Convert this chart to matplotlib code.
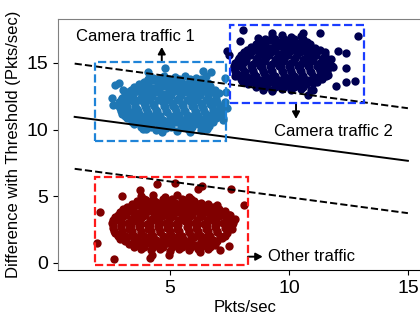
import matplotlib
matplotlib.use("Agg")
import matplotlib.pyplot as plt
from matplotlib.patches import Rectangle

plt.rcParams['font.family'] = ['Liberation Sans', 'DejaVu Sans']

# ---------------- data ----------------
cam1_points = [
    (4.0,10.05),(4.4,9.95),(4.85,10.1),(5.3,9.9),(5.75,10.05),(6.3,10.0),(6.55,10.1),
    (3.5,10.45),(3.85,10.35),(4.2,10.45),(4.6,10.3),(5.0,10.45),(5.45,10.35),(5.8,10.5),(6.2,10.4),(6.65,10.3),
    (3.2,10.85),(3.55,10.75),(3.9,10.9),(4.3,10.8),(4.7,10.7),(5.1,10.85),(5.5,10.75),(5.9,10.9),(6.3,10.8),(6.7,10.7),(6.95,10.9),
    (3.0,11.2),(3.35,11.3),(3.7,11.15),(4.1,11.25),(4.5,11.1),(4.9,11.3),(5.3,11.2),(5.7,11.1),(6.1,11.3),(6.5,11.2),(6.85,11.1),(7.15,11.3),
    (2.9,11.6),(3.2,11.7),(3.6,11.55),(4.0,11.65),(4.4,11.5),(4.8,11.7),(5.2,11.6),(5.6,11.5),(6.0,11.7),(6.4,11.6),(6.8,11.5),(7.1,11.7),
    (2.85,12.05),(3.15,11.95),(3.5,12.1),(3.9,12.0),(4.3,11.9),(4.7,12.1),(5.1,12.0),(5.5,11.9),(5.9,12.1),(6.3,12.0),(6.7,11.9),(7.0,12.1),
    (3.0,12.4),(3.4,12.5),(3.8,12.35),(4.2,12.45),(4.6,12.3),(5.0,12.5),(5.4,12.4),(5.8,12.3),(6.2,12.5),(6.6,12.4),(6.95,12.3),
    (3.2,12.8),(3.6,12.9),(4.0,12.75),(4.4,12.85),(4.8,12.7),(5.2,12.9),(5.6,12.8),(6.0,12.7),(6.4,12.9),(6.75,12.8),(7.05,12.75),
    (3.5,13.2),(3.9,13.3),(4.3,13.15),(4.7,13.25),(5.1,13.1),(5.5,13.3),(5.9,13.2),(6.3,13.1),(6.7,13.3),
    (3.9,13.6),(4.3,13.7),(4.7,13.55),(5.1,13.65),(5.5,13.5),(5.9,13.7),(6.3,13.6),(6.6,13.5),
    (4.3,13.9),(4.75,14.0),(5.2,13.95),(5.65,14.05),(6.1,13.9),(6.5,14.0),
    # outliers
    (2.69,13.35),(2.87,13.47),(2.55,12.4),(4.09,14.35),(4.79,14.6),(6.4,14.4),(6.72,14.35),
    (7.31,12.1),(7.24,10.84),(7.06,11.47),(6.54,10.04),(5.84,9.79),(4.65,9.83),(3.88,10.04),
    (3.04,12.97),(2.62,11.84),(7.3,13.9),(7.35,12.8),(7.25,10.7),(7.4,11.6),
]
cam1_rows = [
    (10.2, [3.8,4.2,4.6,5.05,5.5,5.95,6.4]),
    (10.6, [3.4,3.7,4.05,4.45,4.85,5.25,5.65,6.05,6.45,6.8]),
    (11.0, [3.1,3.45,3.8,4.2,4.6,5.0,5.4,5.8,6.2,6.6,6.95]),
    (11.4, [2.95,3.25,3.65,4.05,4.45,4.85,5.25,5.65,6.05,6.45,6.85,7.15]),
    (11.8, [2.85,3.15,3.55,3.95,4.35,4.75,5.15,5.55,5.95,6.35,6.75,7.1]),
    (12.2, [2.95,3.3,3.7,4.1,4.5,4.9,5.3,5.7,6.1,6.5,6.9]),
    (12.6, [3.1,3.45,3.85,4.25,4.65,5.05,5.45,5.85,6.25,6.6,6.95]),
    (13.0, [3.35,3.75,4.15,4.55,4.95,5.35,5.75,6.15,6.55,6.9]),
    (13.4, [3.7,4.1,4.5,4.9,5.3,5.7,6.1,6.5]),
    (13.8, [4.1,4.5,4.95,5.4,5.85,6.3]),
]

cam2_points = [
    (8.9,13.0),(9.3,12.9),(9.7,13.05),(10.1,12.95),(10.5,13.05),
    (8.3,13.4),(8.7,13.35),(9.1,13.45),(9.5,13.3),(9.9,13.45),(10.3,13.35),(10.7,13.4),(11.0,13.5),
    (8.0,13.8),(8.35,13.9),(8.75,13.75),(9.15,13.85),(9.55,13.7),(9.95,13.9),(10.35,13.8),(10.75,13.7),(11.15,13.9),(11.4,13.8),
    (7.8,14.2),(8.15,14.3),(8.55,14.15),(8.95,14.25),(9.35,14.1),(9.75,14.3),(10.15,14.2),(10.55,14.1),(10.95,14.3),(11.35,14.2),(11.65,14.1),
    (7.7,14.6),(8.05,14.7),(8.45,14.55),(8.85,14.65),(9.25,14.5),(9.65,14.7),(10.05,14.6),(10.45,14.5),(10.85,14.7),(11.25,14.6),(11.6,14.5),(11.85,14.7),
    (7.75,15.0),(8.1,15.1),(8.5,14.95),(8.9,15.05),(9.3,14.9),(9.7,15.1),(10.1,15.0),(10.5,14.9),(10.9,15.1),(11.3,15.0),(11.7,14.9),
    (7.9,15.4),(8.25,15.5),(8.65,15.35),(9.05,15.45),(9.45,15.3),(9.85,15.5),(10.25,15.4),(10.65,15.3),(11.05,15.5),(11.45,15.4),(11.75,15.3),
    (8.1,15.8),(8.45,15.9),(8.85,15.75),(9.25,15.85),(9.65,15.7),(10.05,15.9),(10.45,15.8),(10.85,15.7),(11.2,15.9),(11.5,15.8),
    (8.4,16.2),(8.8,16.3),(9.2,16.15),(9.6,16.25),(10.0,16.1),(10.4,16.3),(10.8,16.2),(11.1,16.1),
    (8.8,16.6),(9.2,16.7),(9.6,16.55),(10.0,16.65),(10.4,16.5),(10.75,16.6),
    (9.3,17.0),(9.7,17.1),(10.1,16.95),(10.5,17.05),
    # outliers
    (8.08,17.45),(9.27,17.26),(12.91,17.02),(7.38,15.87),(7.49,15.62),(12.07,15.88),(12.42,15.75),
    (12.42,14.62),(12.77,13.62),(12.0,13.24),(10.81,12.61),(10.95,13.0),(9.27,13.0),(7.94,16.63),
    (8.71,16.88),(10.6,17.26),(11.3,17.26),(7.73,14.0),(8.01,13.62),(12.42,13.6),(11.02,12.97),
]
cam2_rows = [
    (13.2, [8.6,9.0,9.4,9.8,10.2,10.6]),
    (13.6, [8.15,8.5,8.9,9.3,9.7,10.1,10.5,10.85,11.2]),
    (14.0, [7.9,8.2,8.6,9.0,9.4,9.8,10.2,10.6,11.0,11.3,11.55]),
    (14.4, [7.75,8.1,8.5,8.9,9.3,9.7,10.1,10.5,10.9,11.3,11.6]),
    (14.8, [7.7,8.0,8.4,8.8,9.2,9.6,10.0,10.4,10.8,11.2,11.55,11.8]),
    (15.2, [7.85,8.2,8.6,9.0,9.4,9.8,10.2,10.6,11.0,11.4,11.7]),
    (15.6, [8.0,8.35,8.75,9.15,9.55,9.95,10.35,10.75,11.15,11.5]),
    (16.0, [8.25,8.6,9.0,9.4,9.8,10.2,10.6,11.0,11.3]),
    (16.4, [8.6,9.0,9.4,9.8,10.2,10.6,10.9]),
    (16.8, [9.0,9.4,9.8,10.2,10.6]),
]

other_points = [
    (3.8,1.0),(4.2,0.95),(4.6,1.05),(5.0,0.9),(5.4,1.05),(5.8,0.95),(6.2,1.05),(6.6,1.0),
    (3.3,1.4),(3.7,1.35),(4.1,1.45),(4.5,1.3),(4.9,1.45),(5.3,1.35),(5.7,1.4),(6.1,1.3),(6.5,1.45),(6.9,1.35),
    (2.9,1.8),(3.2,1.9),(3.6,1.75),(4.0,1.85),(4.4,1.7),(4.8,1.9),(5.2,1.8),(5.6,1.7),(6.0,1.9),(6.4,1.8),(6.8,1.7),(7.2,1.85),
    (2.7,2.2),(3.0,2.3),(3.4,2.15),(3.8,2.25),(4.2,2.1),(4.6,2.3),(5.0,2.2),(5.4,2.1),(5.8,2.3),(6.2,2.2),(6.6,2.1),(7.0,2.3),(7.4,2.2),
    (2.6,2.6),(2.95,2.7),(3.3,2.55),(3.7,2.65),(4.1,2.5),(4.5,2.7),(4.9,2.6),(5.3,2.5),(5.7,2.7),(6.1,2.6),(6.5,2.5),(6.9,2.7),(7.3,2.6),(7.6,2.5),
    (2.55,3.0),(2.9,3.1),(3.25,2.95),(3.65,3.05),(4.05,2.9),(4.45,3.1),(4.85,3.0),(5.25,2.9),(5.65,3.1),(6.05,3.0),(6.45,2.9),(6.85,3.1),(7.25,3.0),(7.65,2.95),
    (2.7,3.4),(3.05,3.5),(3.45,3.35),(3.85,3.45),(4.25,3.3),(4.65,3.5),(5.05,3.4),(5.45,3.3),(5.85,3.5),(6.25,3.4),(6.65,3.3),(7.05,3.5),(7.45,3.4),(7.75,3.3),
    (2.9,3.8),(3.3,3.9),(3.7,3.75),(4.1,3.85),(4.5,3.7),(4.9,3.9),(5.3,3.8),(5.7,3.7),(6.1,3.9),(6.5,3.8),(6.9,3.7),(7.3,3.9),
    (3.2,4.2),(3.6,4.3),(4.0,4.15),(4.4,4.25),(4.8,4.1),(5.2,4.3),(5.6,4.2),(6.0,4.1),(6.4,4.3),(6.8,4.2),
    (3.6,4.6),(4.0,4.7),(4.4,4.55),(4.8,4.65),(5.2,4.5),(5.6,4.7),(6.0,4.6),(6.3,4.5),
    (3.8,5.0),(4.3,5.1),(4.8,4.95),(5.3,5.05),(5.8,4.9),
    # outliers
    (4.44,5.93),(5.21,5.99),(6.33,5.78),(7.57,5.5),(8.13,4.3),(2.06,3.81),(1.95,1.5),(2.65,0.3),
    (4.23,0.6),(4.16,0.36),(4.96,0.6),(6.28,0.78),(7.12,0.97),(7.5,1.24),(2.97,4.98),(3.74,5.48),
    (6.96,4.3),(7.52,3.55),(6.19,5.5),
]
other_rows = [
    (1.2, [3.5,3.9,4.3,4.7,5.1,5.5,5.9,6.3,6.7]),
    (1.6, [3.1,3.5,3.9,4.3,4.7,5.1,5.5,5.9,6.3,6.7,7.0]),
    (2.0, [2.8,3.1,3.5,3.9,4.3,4.7,5.1,5.5,5.9,6.3,6.7,7.1,7.3]),
    (2.4, [2.65,3.0,3.4,3.8,4.2,4.6,5.0,5.4,5.8,6.2,6.6,7.0,7.4]),
    (2.8, [2.6,2.95,3.35,3.75,4.15,4.55,4.95,5.35,5.75,6.15,6.55,6.95,7.35,7.6]),
    (3.2, [2.6,2.95,3.35,3.75,4.15,4.55,4.95,5.35,5.75,6.15,6.55,6.95,7.35,7.7]),
    (3.6, [2.8,3.15,3.55,3.95,4.35,4.75,5.15,5.55,5.95,6.35,6.75,7.15,7.5]),
    (4.0, [3.05,3.45,3.85,4.25,4.65,5.05,5.45,5.85,6.25,6.65,7.05]),
    (4.4, [3.4,3.8,4.2,4.6,5.0,5.4,5.8,6.2,6.6]),
    (4.8, [3.9,4.3,4.7,5.1,5.5,5.9]),
]

solid_x = [1.0, 15.0]
solid_y = [10.95, 7.65]
dash_hi_y = [14.95, 11.6]
dash_lo_y = [7.05, 3.72]

boxes = {
    'cam1': (1.85, 9.14, 7.35, 15.08),
    'cam2': (7.52, 11.97, 13.15, 17.88),
    'other': (1.85, -0.17, 8.28, 6.46),
}

x_ticks = [5, 10, 15]
y_ticks = [0, 5, 10, 15]

# ---------------- plot ----------------
fig = plt.figure(figsize=(4.2, 3.2), dpi=100)
ax = fig.add_axes([58/420, 50/320, 373.7/420, 251/320])
ax.set_xlim(0.3, 16.0)
ax.set_ylim(-0.55, 18.3)

ax.plot(solid_x, solid_y, color='black', lw=1.4, zorder=3)
ax.plot(solid_x, dash_hi_y, color='black', lw=1.4, ls='--', zorder=3)
ax.plot(solid_x, dash_lo_y, color='black', lw=1.4, ls='--', zorder=3)

for pts, rows, col in [(cam1_points, cam1_rows, '#1f77b4'),
                       (cam2_points, cam2_rows, '#000050'),
                       (other_points, other_rows, '#800000')]:
    xs = [p[0] for p in pts]
    ys = [p[1] for p in pts]
    for ry, rxs in rows:
        xs += rxs
        ys += [ry] * len(rxs)
    ax.scatter(xs, ys, s=36, color=col, linewidths=0, zorder=2)

box_colors = {'cam1': '#1f84d8', 'cam2': '#1a3cff', 'other': '#ff1a1a'}
for k, (x0, y0, x1, y1) in boxes.items():
    ax.add_patch(Rectangle((x0, y0), x1 - x0, y1 - y0, fill=False,
                           edgecolor=box_colors[k], lw=1.6, ls='--', zorder=4))

arrow_kw = dict(arrowstyle='-|>,head_width=0.22,head_length=0.4', color='black', lw=1.4,
                shrinkA=0, shrinkB=0)
ax.annotate('', xy=(4.66, 16.2), xytext=(4.66, 15.08), arrowprops=arrow_kw)
ax.annotate('', xy=(10.3, 10.8), xytext=(10.3, 11.97), arrowprops=arrow_kw)
ax.annotate('', xy=(8.9, 0.45), xytext=(8.28, 0.45), arrowprops=arrow_kw)

ax.text(3.55, 16.68, 'Camera traffic 1', ha='center', va='baseline', fontsize=12)
ax.text(11.87, 9.51, 'Camera traffic 2', ha='center', va='baseline', fontsize=12)
ax.text(9.12, 0.1, 'Other traffic', ha='left', va='baseline', fontsize=12)

ax.set_xticks(x_ticks)
ax.set_yticks(y_ticks)
ax.tick_params(labelsize=14, length=3.5)
ax.set_xlabel('Pkts/sec', fontsize=12, labelpad=2)
ax.set_ylabel('Difference with Threshold (Pkts/sec)', fontsize=12, labelpad=4)

ax.spines['left'].set_color('#808080')
ax.spines['top'].set_color('#808080')
ax.spines['right'].set_visible(False)
ax.spines['bottom'].set_color('black')

fig.savefig('out.png', dpi=100)
